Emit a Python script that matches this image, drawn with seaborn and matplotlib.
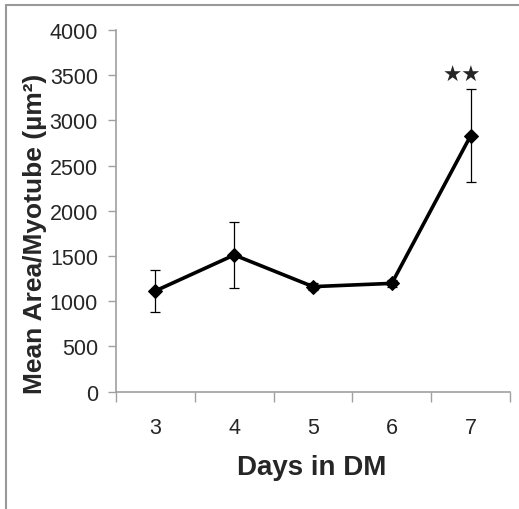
import matplotlib
matplotlib.use("Agg")
import matplotlib.pyplot as plt
import seaborn as sns
import pandas as pd
import numpy as np
from matplotlib.lines import Line2D

days = ["3", "4", "5", "6", "7"]
mean_area = [1115, 1512, 1162, 1198, 2830]
err = [232, 365, 40, 40, 515]
y_ticks = [0, 500, 1000, 1500, 2000, 2500, 3000, 3500, 4000]
sig_label = "★★"

sns.set_theme(style="white")
plt.rcParams["font.family"] = ["Liberation Sans", "DejaVu Sans"]

tick_size = 15.5

W, H = 519, 510
fig = plt.figure(figsize=(W / 100, H / 100), dpi=100)
ax = fig.add_axes([116 / W, 1 - 392.7 / H, (510 - 116) / W, (392.7 - 31) / H])

df = pd.DataFrame({"pos": np.arange(len(days)), "area": mean_area})
ax.errorbar(df["pos"], df["area"], yerr=err, fmt="none", ecolor="black",
            elinewidth=0.9, capsize=3.5, capthick=0.9, zorder=2)
sns.lineplot(data=df, x="pos", y="area", ax=ax, color="black", linewidth=2.6,
             marker="D", markersize=7.5, markeredgecolor="black",
             markerfacecolor="black", zorder=3)

ax.set_xlim(-0.5, len(days) - 0.5)
ax.set_ylim(0, 4000)
ax.set_yticks(y_ticks)
ax.set_yticklabels([str(t) for t in y_ticks], fontsize=tick_size)
ax.set_xticks(np.arange(-0.5, len(days)), labels=[""] * (len(days) + 1))
ax.set_xticks(np.arange(len(days)), labels=days, minor=True,
              fontsize=tick_size)
ax.tick_params(axis="x", which="major", direction="out", length=7, width=1,
               color="#a0a0a0", bottom=True)
ax.tick_params(axis="x", which="minor", length=0, pad=18)
ax.tick_params(axis="y", direction="out", length=6, width=1, color="#a0a0a0",
               left=True, pad=7)

for s in ["top", "right"]:
    ax.spines[s].set_visible(False)
for s in ["left", "bottom"]:
    ax.spines[s].set_color("#a0a0a0")
    ax.spines[s].set_linewidth(1.2)

ax.set_xlabel("")
ax.set_ylabel("")
fig.text(312 / W, 1 - 468 / H, "Days in DM", fontsize=20, fontweight="bold",
         ha="center", va="center")
fig.text(35 / W, 1 - 234 / H, "Mean Area/Myotube (µm²)", fontsize=19,
         fontweight="bold", rotation=90, ha="center", va="center")

ax.text(len(days) - 1 - 0.11, 3500, sig_label, fontsize=15.5, ha="center",
        va="center", family=["DejaVu Sans"])

fig.add_artist(Line2D([6 / W, 1], [1 - 6 / H, 1 - 6 / H], color="#999999",
                      linewidth=1.5, transform=fig.transFigure))
fig.add_artist(Line2D([6 / W, 6 / W], [0, 1 - 6 / H], color="#999999",
                      linewidth=1.5, transform=fig.transFigure))

fig.savefig("out.png", dpi=100)
